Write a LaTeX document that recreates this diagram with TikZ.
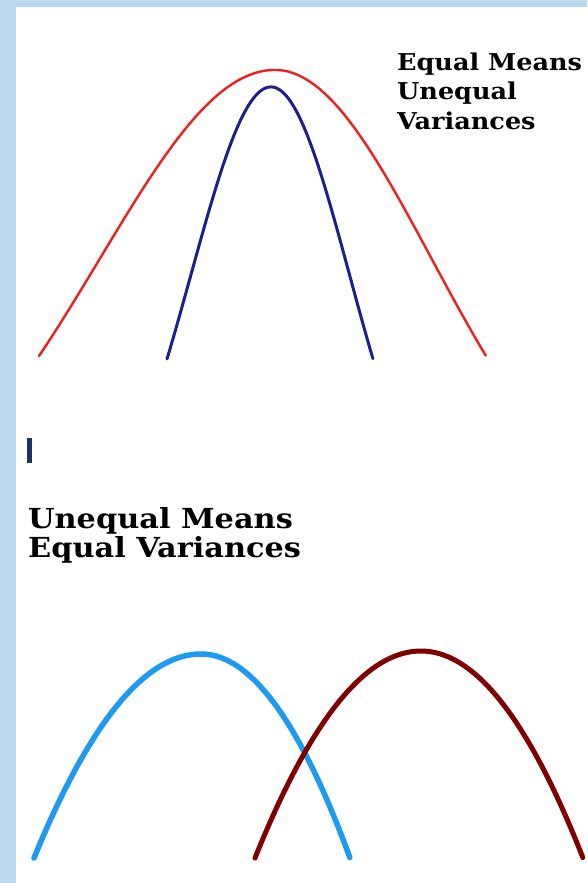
\documentclass[tikz,border=0pt]{standalone}
\usepackage{fontspec}
\newfontfamily\labelfont[FakeStretch=1.1]{DejaVu Serif}
\definecolor{frameblue}{HTML}{BDD7EE}
\definecolor{curvered}{HTML}{F01E1E}
\definecolor{curvenavy}{HTML}{1E1E8C}
\definecolor{curvesky}{HTML}{1E9AF0}
\definecolor{curvemaroon}{HTML}{800000}
\definecolor{barnavy}{HTML}{1F3064}
\tikzset{
  curve/.style={line cap=round, line join=round},
  labeltext/.style={anchor=base west, inner sep=0pt, align=left, text=black},
  declare function={
    gtop(\t,\k)=(exp(-(\k*\k*\t*\t)/2)-exp(-(\k*\k)/2))/(1-exp(-(\k*\k)/2));
  },
}
\begin{document}
\begin{tikzpicture}[x=1pt, y=-1pt]
\useasboundingbox (0,0) rectangle (587,883);
\fill[frameblue] (0,0) rectangle (587,883);
\fill[white] (16,7) rectangle (587,883);
% top curves
\draw[curve, curvered, line width=2.4pt]
  plot[domain=-1:1, samples=101] ({275+(\x<0?236:211)*\x}, {70+286*(1-gtop(\x,1.35))});
\draw[curve, curvenavy, line width=3pt]
  plot[domain=-1:1, samples=101] ({271+(\x<0?104:102)*\x}, {87+272*(1-gtop(\x,1.3))});
% bottom curves
\draw[curve, curvesky, line width=5.5pt]
  plot[domain=-1:1, samples=101] ({201+(\x<0?167:149)*\x}, {654+204*\x*\x});
\draw[curve, curvemaroon, line width=5pt]
  plot[domain=-1:1, samples=101] ({421+(\x<0?166:162)*\x}, {651+207*\x*\x});
% small bar
\fill[barnavy] (27,438) rectangle (32,463);
% labels (anchor is the baseline of the last line)
\node[labeltext, font={\labelfont\bfseries\fontsize{23.2}{29.5}\selectfont}] (toplabel) at (397,129) {Equal Means\\Unequal\\Variances};
\node[labeltext, font={\labelfont\bfseries\fontsize{27.6}{29}\selectfont}] (bottomlabel) at (28,557) {Unequal Means\\Equal Variances};
\end{tikzpicture}
\end{document}
